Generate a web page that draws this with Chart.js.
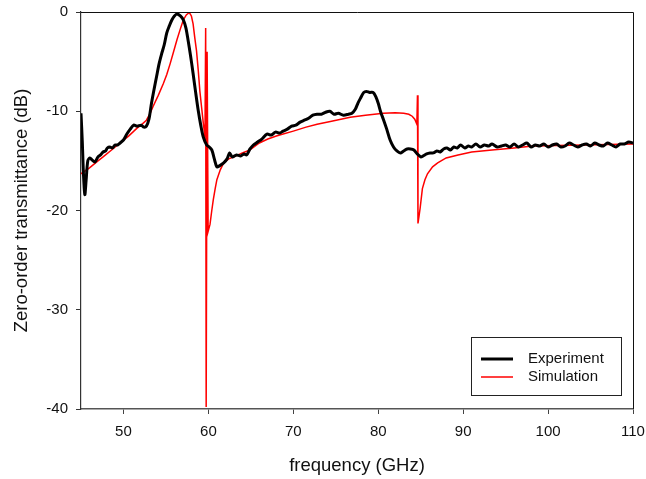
<!DOCTYPE html>
<html>
<head>
<meta charset="utf-8">
<script src="https://cdn.jsdelivr.net/npm/chart.js@4/dist/chart.umd.min.js"></script>
<style>
  html, body { margin: 0; padding: 0; background: #fff; }
  #wrap { width: 646px; height: 479px; }
</style>
</head>
<body>
<div id="wrap"><canvas id="c" width="646" height="479"></canvas></div>
<script>
// measured transmittance (black)
const expFreq = [45.0, 45.15, 45.3, 45.45, 45.6, 45.8, 46.05, 46.3, 46.65, 47.0, 47.3, 47.6, 47.9, 48.1, 48.4, 48.7, 49.0, 49.3, 49.6, 50.0,
    50.4, 50.8, 51.2, 51.6, 52.1, 52.4, 52.7, 53.0, 53.3, 53.6, 53.9, 54.2, 54.5, 54.8, 55.1, 55.4, 55.7, 56.0, 56.3, 56.7,
    57.05, 57.35, 57.6, 57.9, 58.2, 58.5, 58.8, 59.1, 59.4, 59.8, 60.1, 60.4, 60.7, 61.0, 61.3, 61.8, 62.2, 62.5, 62.8, 63.3,
    63.8, 64.2, 64.5, 64.9, 65.3, 65.8, 66.3, 66.9, 67.4, 67.9, 68.4, 68.8, 69.3, 69.8, 70.3, 70.8, 71.3, 71.8, 72.3, 72.8,
    73.3, 73.8, 74.3, 74.8, 75.3, 75.9, 76.5, 76.9, 77.3, 77.6, 77.9, 78.3, 78.6, 79.0, 79.4, 79.7, 80.0, 80.3, 80.6, 81.0,
    81.4, 81.8, 82.2, 82.6, 83.0, 83.4, 83.8, 84.2, 84.6, 85.0, 85.3, 85.7, 86.1, 86.5, 86.9, 87.3, 87.7, 88.1, 88.5, 88.9,
    89.3, 89.7, 90.2, 90.6, 91.0, 91.5, 92.0, 92.5, 93.0, 93.4, 94.0, 94.5, 95.0, 95.5, 96.0, 96.5, 97.0, 97.5, 98.0, 98.5,
    99.0, 99.5, 100.0, 100.5, 101.0, 101.5, 102.0, 102.5, 103.0, 103.5, 104.0, 104.5, 105.0, 105.5, 106.0, 106.5, 107.0, 107.5, 108.0, 108.5,
    109.0, 109.5, 110.0];
const expDb = [-10.2, -13.0, -16.5, -18.4, -17.0, -15.0, -14.7, -14.9, -15.1, -14.6, -14.4, -14.1, -14.0, -13.7, -13.6, -13.7, -13.4, -13.4, -13.2, -12.9,
    -12.3, -11.8, -11.4, -11.5, -11.4, -11.6, -11.5, -10.8, -9.2, -7.8, -6.5, -5.2, -4.2, -3.3, -2.1, -1.4, -0.8, -0.4, -0.2, -0.4,
    -0.8, -1.6, -2.8, -4.4, -6.2, -8.1, -9.9, -11.4, -12.6, -13.4, -13.6, -13.9, -14.8, -15.6, -15.5, -15.2, -14.8, -14.2, -14.6, -14.4,
    -14.5, -14.3, -14.4, -13.8, -13.4, -13.1, -12.8, -12.3, -12.4, -12.1, -12.2, -12.0, -11.8, -11.5, -11.4, -11.1, -10.9, -10.7, -10.4, -10.3,
    -10.3, -10.1, -10.0, -10.3, -10.2, -10.4, -10.3, -10.2, -9.8, -9.2, -8.7, -8.1, -8.0, -8.1, -8.1, -8.5, -9.2, -10.1, -10.8, -11.8,
    -12.9, -13.6, -14.0, -14.2, -14.0, -13.8, -13.8, -13.9, -14.3, -14.6, -14.5, -14.3, -14.2, -14.2, -14.0, -14.1, -13.8, -13.7, -13.9, -13.6,
    -13.7, -13.4, -13.7, -13.5, -13.6, -13.3, -13.6, -13.4, -13.5, -13.3, -13.6, -13.5, -13.4, -13.6, -13.3, -13.6, -13.4, -13.2, -13.6, -13.4,
    -13.5, -13.3, -13.6, -13.4, -13.3, -13.6, -13.5, -13.2, -13.4, -13.6, -13.4, -13.3, -13.5, -13.2, -13.4, -13.5, -13.2, -13.4, -13.6, -13.3,
    -13.3, -13.1, -13.2];

// simulated transmittance (red)
const simFreq = [45.0, 46.0, 47.0, 47.6, 48.6, 49.6, 50.6, 51.6, 52.2, 52.7, 53.1, 53.5, 54.1, 54.7, 55.1, 55.5, 55.9, 56.3, 56.7, 57.05,
    57.4, 57.75, 58.0, 58.2, 58.4, 58.6, 58.8, 59.0, 59.2, 59.4, 59.6, 59.68, 59.74, 59.85, 59.97, 60.19, 60.4, 60.58, 60.8, 61.0,
    61.4, 61.8, 62.4, 63.0, 64.0, 64.9, 66.0, 67.0, 68.0, 68.8, 70.0, 71.5, 72.8, 74.5, 76.7, 78.5, 80.6, 82.0, 83.0, 83.6,
    84.0, 84.3, 84.55, 84.62, 84.68, 84.8, 84.93, 85.2, 85.5, 85.8, 86.4, 87.0, 88.0, 89.4, 91.0, 93.4, 96.0, 98.2, 101.0, 104.2,
    107.0, 110.0];
const simDb = [-16.3, -15.7, -15.0, -14.6, -13.9, -13.2, -12.5, -11.7, -11.3, -10.9, -10.3, -9.5, -8.4, -7.2, -6.3, -5.2, -4.0, -2.8, -1.7, -0.8,
    -0.3, -0.05, -0.4, -1.2, -2.6, -3.9, -5.8, -8.0, -9.6, -11.2, -12.6, -1.6, -39.8, -4.0, -22.1, -21.4, -20.0, -18.9, -17.8, -16.9,
    -15.9, -15.2, -14.8, -14.6, -14.2, -13.9, -13.2, -12.8, -12.5, -12.3, -12.0, -11.6, -11.3, -11.0, -10.6, -10.4, -10.2, -10.15, -10.2, -10.3,
    -10.5, -10.8, -11.3, -8.4, -21.3, -20.6, -19.8, -17.8, -16.9, -16.3, -15.6, -15.2, -14.7, -14.4, -14.1, -13.9, -13.7, -13.5, -13.45, -13.4,
    -13.35, -13.3];

const xTickValues = [50, 60, 70, 80, 90, 100, 110];
const seriesLabels = ['Experiment', 'Simulation'];

const FONT = "'Liberation Sans', Arial, sans-serif";

function toPoints(xs, ys) {
    return xs.map((x, i) => ({ x: x, y: ys[i] }));
}

// box round the plot + boxed legend inside it
const framePlugin = {
    id: 'frame',
    afterDraw(chart) {
        let ctx = chart.ctx,
            a = chart.chartArea;
        ctx.save();
        ctx.strokeStyle = '#111';
        ctx.lineWidth = 1;
        ctx.beginPath();
        ctx.moveTo(a.left, a.top + 0.5);
        ctx.lineTo(a.right + 0.5, a.top + 0.5);
        ctx.lineTo(a.right + 0.5, a.bottom);
        ctx.stroke();

        // legend
        let bx = 471, by = 337, bw = 150, bh = 58;
        ctx.strokeStyle = '#222';
        ctx.strokeRect(bx + 0.5, by + 0.5, bw, bh);
        ctx.font = '15px ' + FONT;
        ctx.textBaseline = 'middle';
        ctx.fillStyle = '#111';
        chart.data.datasets.forEach((ds, i) => {
            let y = by + 22 + i * 18;
            ctx.strokeStyle = ds.borderColor;
            ctx.lineWidth = ds.borderWidth;
            ctx.beginPath();
            ctx.moveTo(bx + 10, y);
            ctx.lineTo(bx + 42, y);
            ctx.stroke();
            ctx.fillText(ds.label, bx + 57, y);
        });
        ctx.restore();
    }
};

new Chart(document.getElementById('c'), {
    type: 'line',
    data: {
        datasets: [
            {
                label: seriesLabels[0],
                data: toPoints(expFreq, expDb),
                borderColor: '#000',
                borderWidth: 3,
                pointRadius: 0,
                tension: 0.3
            },
            {
                label: seriesLabels[1],
                data: toPoints(simFreq, simDb),
                borderColor: '#ff0000',
                borderWidth: 1.5,
                pointRadius: 0,
                tension: 0
            }
        ]
    },
    options: {
        responsive: false,
        animation: false,
        events: [],
        layout: { padding: { left: 1, right: 13, top: 12, bottom: 0 } },
        plugins: {
            legend: { display: false },
            tooltip: { enabled: false }
        },
        scales: {
            x: {
                type: 'linear',
                min: 45,
                max: 110,
                afterBuildTicks: (scale) => {
                    scale.ticks = xTickValues.map(v => ({ value: v }));
                },
                afterFit: (scale) => {
                    scale.height = 70;
                    scale.paddingLeft = 0;
                    scale.paddingRight = 0;
                },
                grid: { drawOnChartArea: false, drawTicks: true, tickLength: 5, color: '#444' },
                border: { color: '#555', width: 1.5 },
                ticks: { color: '#111', padding: 9, maxRotation: 0, font: { family: FONT, size: 15 } },
                title: {
                    display: true,
                    text: 'frequency (GHz)',
                    color: '#111',
                    font: { family: FONT, size: 18.5 },
                    padding: { top: 0, bottom: 2 }
                }
            },
            y: {
                min: -40,
                max: 0,
                afterFit: (scale) => {
                    scale.width = 80;
                    scale.paddingTop = 0;
                    scale.paddingBottom = 0;
                },
                grid: { drawOnChartArea: false, drawTicks: true, tickLength: 5, color: '#333' },
                border: { color: '#333', width: 1.2 },
                ticks: { stepSize: 10, color: '#111', padding: 8, font: { family: FONT, size: 15 } },
                title: {
                    display: true,
                    text: 'Zero-order transmittance (dB)',
                    color: '#111',
                    font: { family: FONT, size: 18.5 },
                    padding: { top: 10, bottom: 0 }
                }
            }
        }
    },
    plugins: [framePlugin]
});
</script>
</body>
</html>
